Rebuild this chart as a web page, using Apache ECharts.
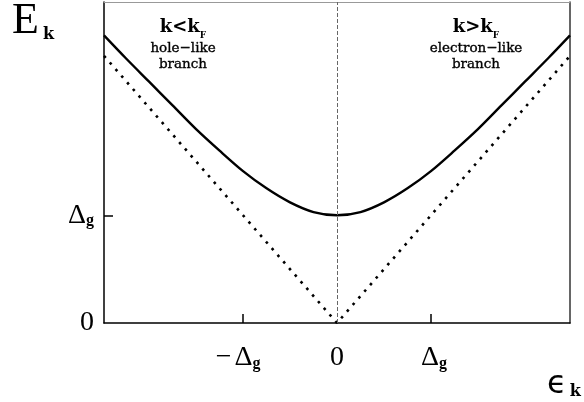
<!DOCTYPE html>
<html>
<head>
<meta charset="utf-8">
<style>
  html, body { margin: 0; padding: 0; background: #fff; }
  #chart { width: 584px; height: 402px; }
</style>
<script src="https://cdn.jsdelivr.net/npm/echarts@6/dist/echarts.min.js"></script>
</head>
<body>
<div id="chart"></div>
<script>
// Quasiparticle energy E_k versus single-particle energy ε_k (units of Δ_g)
const epsValues = [-2.48, -2.25, -2.0, -1.75, -1.5, -1.25, -1.0, -0.75, -0.5, -0.25, 0,
                   0.25, 0.5, 0.75, 1.0, 1.25, 1.5, 1.75, 2.0, 2.25, 2.48];
const gappedE   = [2.67, 2.46, 2.24, 2.02, 1.80, 1.60, 1.41, 1.25, 1.12, 1.03, 1.00,
                   1.03, 1.12, 1.25, 1.41, 1.60, 1.80, 2.02, 2.24, 2.46, 2.67];
// Normal-state (ungapped) branch |ε_k|
const normalEps = [-2.48, 0, 2.48];
const normalE   = [2.48, 0, 2.48];
// Tick positions and their labels
const xTickValues  = [-1, 1];
const xLabelValues = [-1, 0, 1];
const xTickLabels  = { '-1': '{m|−}{d|Δ}{gr|g}', '0': '{z|0}', '1': '{dl|Δ}{g|g}' };
const yTickValues  = [1];
const yLabelValues = [0, 1];
const yTickLabels  = { '0': '{z|0}', '1': '{d|Δ}{g|g}' };

const serif = 'Liberation Serif';
const big = { fontFamily: serif, fontSize: 28, color: '#000', lineHeight: 28 };
const sub = { fontFamily: serif, fontSize: 16, fontWeight: 'bold', color: '#000', lineHeight: 8, verticalAlign: 'bottom' };
const tickRich = {
  z: big,
  d: big,
  dl: Object.assign({}, big, { padding: [0, 0, 0, 6] }),
  m: Object.assign({}, big, { padding: [0, 3, 0, 0] }),
  g: sub,
  gr: Object.assign({}, sub, { padding: [0, 10, 0, 0] })
};

// Branch annotation styles
const noteRich = {
  k: { fontFamily: 'DejaVu Serif', fontSize: 18, fontWeight: 'bold', fill: '#000', lineHeight: 26 },
  f: { fontFamily: 'DejaVu Serif', fontSize: 9, fontWeight: 'bold', fill: '#000', lineHeight: 10, verticalAlign: 'bottom' },
  t: { fontFamily: 'DejaVu Serif', fontSize: 13.5, fill: '#000', stroke: '#000', lineWidth: 0.35, lineHeight: 16 }
};

const chart = echarts.init(document.getElementById('chart'), null, { renderer: 'canvas' });

const pairs = (xs, ys) => xs.map((x, i) => [x, ys[i]]);

chart.setOption({
  animation: false,
  backgroundColor: '#fff',
  grid: { left: 104, right: 14, top: 2, bottom: 79, containLabel: false },
  xAxis: [{
    type: 'value', min: -2.48, max: 2.48,
    axisLine: { onZero: false, lineStyle: { color: '#000', width: 1.5 } },
    axisTick: { show: true, inside: true, length: 9, customValues: xTickValues, lineStyle: { color: '#000', width: 1.5 } },
    axisLabel: {
      customValues: xLabelValues, margin: 21,
      formatter: v => xTickLabels[String(v)], rich: tickRich
    },
    splitLine: { show: false }
  }, {
    type: 'value', position: 'top', min: -2.48, max: 2.48,
    axisLine: { show: true, onZero: false, lineStyle: { color: '#999', width: 1 } },
    axisTick: { show: false }, axisLabel: { show: false }, splitLine: { show: false }
  }],
  yAxis: [{
    type: 'value', min: 0, max: 2.98,
    axisLine: { show: true, onZero: false, lineStyle: { color: '#000', width: 1.5 } },
    axisTick: { show: true, inside: true, length: 9, customValues: yTickValues, lineStyle: { color: '#000', width: 1.5 } },
    axisLabel: {
      customValues: yLabelValues, margin: 10,
      formatter: v => yTickLabels[String(v)], rich: tickRich
    },
    splitLine: { show: false }
  }, {
    type: 'value', position: 'right', min: 0, max: 2.98,
    axisLine: { show: true, onZero: false, lineStyle: { color: '#333', width: 1.5 } },
    axisTick: { show: false }, axisLabel: { show: false }, splitLine: { show: false }
  }],
  series: [{
    name: 'normal',
    type: 'line',
    data: pairs(normalEps, normalE),
    showSymbol: false,
    lineStyle: { color: '#000', width: 2.6, type: [2.6, 6.2], cap: 'butt' },
    markLine: {
      silent: true, symbol: 'none', label: { show: false },
      lineStyle: { color: '#666', width: 1, type: 'dashed', dashOffset: 0 },
      data: [{ xAxis: 0 }]
    },
    z: 3
  }, {
    name: 'gapped',
    type: 'line',
    data: pairs(epsValues, gappedE),
    smooth: 0.3,
    showSymbol: false,
    lineStyle: { color: '#000', width: 2.4 },
    z: 4
  }],
  graphic: [{
    type: 'text', left: 12, top: -1,
    style: {
      text: '{e|E}{k|k}',
      rich: {
        e: { fontFamily: serif, fontSize: 44, fill: '#000', lineHeight: 44 },
        k: { fontFamily: 'DejaVu Serif', fontSize: 16, fontWeight: 'bold', fill: '#000', lineHeight: 12, verticalAlign: 'bottom', padding: [0, 0, 0, 4] }
      }
    }
  }, {
    type: 'text', left: 547, top: 369,
    style: {
      text: '{e|ϵ}{k|k}',
      rich: {
        e: { fontFamily: 'DejaVu Sans', fontSize: 32, fill: '#000', lineHeight: 30 },
        k: { fontFamily: 'DejaVu Serif', fontSize: 16, fontWeight: 'bold', fill: '#000', lineHeight: 2, verticalAlign: 'bottom', padding: [0, 0, 0, 3] }
      }
    }
  }, {
    type: 'text', x: 183, y: 14,
    style: { text: '{k|k<k}{f|F}\n{t|hole−like}\n{t|branch}', align: 'center', rich: noteRich }
  }, {
    type: 'text', x: 476, y: 14,
    style: { text: '{k|k>k}{f|F}\n{t|electron−like}\n{t|branch}', align: 'center', rich: noteRich }
  }]
});
</script>
</body>
</html>
